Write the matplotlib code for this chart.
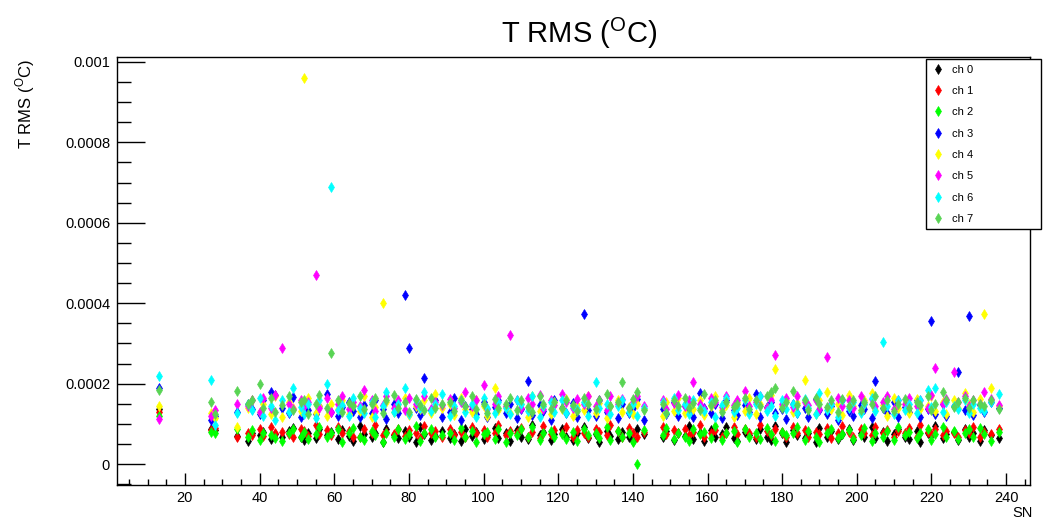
import matplotlib.pyplot as plt
from matplotlib.ticker import MultipleLocator
import numpy as np

plt.rcParams['font.family'] = ['Liberation Sans', 'DejaVu Sans']
plt.rcParams['mathtext.fontset'] = 'custom'
plt.rcParams['mathtext.rm'] = 'Liberation Sans'

# serial numbers (x axis)
sn = [13, 27, 28, 34, 37, 38, 40, 41, 43, 44,
      46, 48, 49, 51, 52, 53, 55, 56, 58, 59,
      61, 62, 64, 65, 67, 68, 70, 71, 73, 74,
      76, 77, 79, 80, 82, 83, 84, 86, 87, 89,
      91, 92, 94, 95, 97, 98, 100, 101, 103, 104,
      106, 107, 109, 110, 112, 113, 115, 116, 118, 119,
      121, 122, 124, 125, 127, 128, 130, 131, 133, 134,
      136, 137, 139, 140, 141, 143, 148, 149, 151, 152,
      154, 155, 156, 158, 159, 161, 162, 164, 165, 167,
      168, 170, 171, 173, 174, 176, 177, 178, 180, 181,
      183, 184, 186, 187, 189, 190, 192, 193, 195, 196,
      198, 199, 201, 202, 204, 205, 207, 208, 210, 211,
      213, 214, 216, 217, 219, 220, 221, 223, 224, 226,
      227, 229, 230, 231, 233, 234, 236, 238]

# T RMS per channel, in units of 1e-6 degC
ch0 = [138, 88, 85, 70, 58, 78, 72, 80, 62, 74,
       66, 82, 90, 68, 60, 76, 65, 88, 73, 79,
       62, 84, 70, 58, 95, 74, 66, 78, 56, 86,
       72, 64, 81, 68, 55, 92, 75, 60, 70, 83,
       64, 74, 58, 88, 70, 79, 62, 73, 90, 65,
       76, 58, 84, 68, 62, 96, 72, 80, 60, 75,
       86, 68, 60, 78, 92, 64, 74, 56, 82, 70,
       62, 79, 68, 58, 88, 74, 66, 82, 60, 76,
       70, 95, 62, 78, 57, 84, 68, 74, 92, 64,
       58, 80, 73, 62, 88, 68, 60, 95, 76, 56,
       84, 72, 64, 78, 54, 90, 68, 82, 62, 74,
       88, 60, 76, 68, 92, 64, 80, 58, 74, 86,
       68, 62, 82, 56, 78, 72, 94, 64, 75, 80,
       60, 88, 68, 76, 58, 84, 72, 64]
ch1 = [130, 84, 90, 66, 78, 72, 86, 70, 92, 76,
       80, 74, 66, 88, 82, 70, 98, 75, 84, 72,
       92, 76, 82, 68, 66, 86, 78, 96, 72, 80,
       74, 88, 70, 84, 78, 64, 94, 76, 82, 68,
       86, 72, 80, 66, 92, 76, 84, 68, 78, 98,
       72, 82, 76, 90, 68, 80, 64, 94, 74, 84,
       78, 92, 68, 84, 76, 66, 86, 80, 72, 96,
       82, 68, 90, 76, 66, 80, 92, 74, 84, 78,
       86, 72, 80, 96, 68, 78, 84, 66, 76, 92,
       74, 88, 78, 68, 98, 82, 72, 86, 80, 66,
       92, 76, 84, 68, 80, 74, 90, 64, 78, 94,
       80, 68, 86, 76, 72, 92, 78, 84, 66, 82,
       76, 90, 68, 96, 80, 74, 86, 72, 82, 78,
       68, 84, 76, 92, 66, 80, 74, 86]
ch2 = [120, 80, 76, 87, 68, 84, 60, 78, 72, 64,
       58, 76, 88, 68, 80, 62, 74, 92, 66, 78,
       86, 56, 76, 90, 68, 60, 82, 72, 54, 78,
       68, 88, 62, 74, 94, 58, 78, 86, 66, 72,
       76, 60, 90, 68, 82, 54, 74, 80, 62, 88,
       56, 78, 72, 86, 66, 92, 60, 76, 82, 68,
       74, 62, 80, 58, 88, 72, 78, 64, 92, 60,
       82, 68, 76, 56, 0, 84, 72, 90, 62, 78,
       68, 58, 88, 74, 80, 64, 94, 60, 76, 82,
       54, 86, 68, 78, 62, 90, 74, 58, 80, 72,
       76, 92, 60, 82, 68, 56, 78, 88, 64, 74,
       84, 62, 72, 90, 58, 78, 68, 82, 60, 92,
       72, 80, 64, 76, 88, 60, 74, 92, 68, 82,
       62, 78, 86, 68, 90, 74, 58, 80]
ch3 = [190, 110, 120, 130, 150, 138, 125, 160, 180, 172,
       140, 128, 167, 118, 150, 135, 124, 145, 175, 130,
       120, 142, 155, 132, 118, 148, 126, 160, 138, 112,
       150, 128, 420, 288, 140, 122, 215, 135, 158, 118,
       130, 165, 110, 145, 138, 125, 155, 118, 142, 160,
       128, 150, 115, 136, 207, 122, 148, 132, 110, 158,
       140, 126, 152, 118, 372, 135, 120, 160, 130, 145,
       115, 150, 128, 140, 162, 110, 138, 125, 155, 120,
       145, 132, 118, 177, 140, 128, 150, 115, 160, 135,
       122, 148, 130, 175, 118, 142, 155, 126, 138, 112,
       150, 128, 140, 118, 162, 135, 124, 145, 110, 158,
       132, 120, 148, 138, 115, 207, 140, 126, 155, 118,
       142, 130, 160, 118, 136, 355, 125, 150, 120, 145,
       228, 135, 368, 122, 148, 130, 155, 140]
ch4 = [145, 127, 115, 93, 140, 160, 130, 150, 125, 170,
       118, 155, 140, 132, 960, 165, 128, 145, 120, 150,
       138, 160, 125, 148, 132, 170, 118, 142, 400, 155,
       130, 150, 165, 122, 145, 136, 160, 128, 175, 140,
       150, 122, 165, 138, 130, 158, 145, 120, 190, 135,
       142, 128, 160, 150, 118, 170, 132, 145, 125, 155,
       138, 162, 120, 148, 135, 170, 128, 152, 115, 145,
       160, 130, 142, 125, 150, 138, 120, 155, 132, 165,
       128, 150, 138, 160, 122, 145, 170, 135, 148, 118,
       155, 132, 165, 125, 150, 140, 172, 237, 145, 160,
       130, 152, 210, 140, 125, 160, 180, 138, 150, 122,
       172, 145, 130, 158, 177, 135, 148, 120, 165, 140,
       150, 128, 162, 138, 145, 170, 132, 155, 125, 160,
       140, 177, 150, 130, 162, 373, 190, 145]
ch5 = [112, 120, 135, 150, 145, 158, 130, 165, 140, 172,
       288, 150, 138, 160, 145, 155, 470, 140, 165, 130,
       150, 168, 138, 155, 145, 185, 160, 132, 148, 170,
       140, 158, 135, 165, 150, 142, 170, 138, 155, 148,
       162, 140, 155, 178, 145, 160, 197, 138, 150, 168,
       145, 320, 158, 140, 165, 150, 172, 138, 160, 148,
       173, 155, 140, 162, 150, 168, 145, 158, 135, 170,
       150, 162, 140, 155, 168, 145, 160, 138, 152, 172,
       145, 160, 205, 150, 138, 165, 155, 142, 170, 148,
       160, 182, 145, 155, 168, 140, 158, 270, 150, 165,
       142, 170, 155, 148, 160, 138, 267, 152, 165, 145,
       158, 140, 170, 150, 162, 145, 155, 168, 138, 160,
       150, 165, 145, 158, 140, 172, 238, 150, 162, 228,
       155, 168, 145, 160, 150, 178, 162, 148]
ch6 = [220, 210, 97, 128, 150, 135, 165, 120, 145, 110,
       158, 130, 190, 142, 125, 150, 115, 160, 200, 690,
       135, 148, 120, 165, 140, 128, 155, 118, 145, 180,
       130, 150, 190, 125, 160, 140, 178, 132, 150, 175,
       120, 145, 160, 130, 150, 118, 165, 140, 128, 155,
       140, 125, 160, 150, 132, 168, 118, 145, 155, 130,
       160, 128, 145, 138, 155, 120, 204, 140, 150, 125,
       145, 160, 130, 150, 120, 140, 155, 128, 165, 135,
       150, 125, 160, 140, 132, 155, 118, 148, 165, 130,
       140, 158, 125, 150, 168, 132, 145, 120, 160, 138,
       150, 128, 162, 140, 125, 177, 135, 150, 118, 160,
       140, 155, 128, 150, 165, 132, 303, 145, 125, 158,
       135, 150, 128, 160, 185, 142, 190, 130, 155, 145,
       138, 160, 128, 150, 140, 132, 155, 175]
ch7 = [185, 155, 125, 182, 150, 160, 200, 140, 165, 130,
       148, 170, 135, 155, 160, 125, 150, 172, 140, 275,
       160, 130, 152, 145, 170, 138, 150, 165, 128, 158,
       172, 140, 155, 130, 162, 148, 135, 165, 140, 150,
       155, 132, 160, 145, 170, 138, 150, 128, 162, 140,
       150, 165, 135, 158, 142, 130, 168, 150, 138, 155,
       140, 160, 148, 132, 165, 150, 138, 158, 175, 145,
       155, 204, 140, 162, 178, 135, 150, 128, 158, 145,
       165, 140, 152, 135, 173, 148, 160, 130, 155, 142,
       150, 165, 138, 158, 145, 170, 180, 190, 140, 155,
       182, 148, 160, 135, 165, 150, 142, 158, 130, 162,
       145, 160, 135, 155, 150, 168, 140, 158, 132, 150,
       162, 140, 155, 148, 170, 135, 150, 178, 160, 142,
       155, 165, 140, 158, 150, 145, 160, 138]

channels = [ch0, ch1, ch2, ch3, ch4, ch5, ch6, ch7]
labels = ['ch 0', 'ch 1', 'ch 2', 'ch 3', 'ch 4', 'ch 5', 'ch 6', 'ch 7']
colors = ['#000000', '#ff0000', '#00ff00', '#0000ff',
          '#ffff00', '#ff00ff', '#00ffff', '#59d454']

fig = plt.figure(figsize=(10.49, 5.24), dpi=100)
ax = fig.add_axes([117/1049, 1 - 485/524, 913/1049, 428/524])

for vals, lab, col in zip(channels, labels, colors):
    ax.plot(sn, np.array(vals) * 1e-6, linestyle='none', marker='d',
            markersize=4.6, color=col, markeredgewidth=0.45, label=lab)

ax.set_xlim(1.8, 246.4)
ax.set_ylim(-5.22e-5, 1.0124e-3)

ax.xaxis.set_minor_locator(MultipleLocator(5))
ax.yaxis.set_minor_locator(MultipleLocator(0.00005))
ax.set_xticks([20, 40, 60, 80, 100, 120, 140, 160, 180, 200, 220, 240])
ax.set_yticks([0, 0.0002, 0.0004, 0.0006, 0.0008, 0.001])
ax.set_yticklabels(['0', '0.0002', '0.0004', '0.0006', '0.0008', '0.001'])

ax.tick_params(axis='y', which='major', direction='in', length=20, width=1, labelsize=10.5, pad=5)
ax.tick_params(axis='y', which='minor', direction='in', length=10, width=1)
ax.tick_params(axis='x', which='major', direction='in', length=8.5, width=1, labelsize=10.5, pad=4)
ax.tick_params(axis='x', which='minor', direction='in', length=4.3, width=1)
for s in ax.spines.values():
    s.set_linewidth(1.0)

fig.text(579/1049, 0.936, r'T RMS ($^{\mathrm{O}}$C)', ha='center', va='center', fontsize=21)
fig.text(0.024, 0.887, r'T RMS ($^{\mathrm{O}}$C)', rotation=90, ha='center', va='top', fontsize=12)
fig.text(1033/1049, 1 - 513/524, 'SN', ha='right', va='center', fontsize=10.5)

leg = ax.legend(loc='upper left', bbox_to_anchor=(926/1049, 1 - 217/524, 115/1049, 158/524),
                bbox_transform=fig.transFigure, mode='expand', fancybox=False,
                edgecolor='black', framealpha=1, fontsize=8, labelspacing=1.02,
                handlelength=1.2, handletextpad=0.6, borderpad=0.5, borderaxespad=0)
leg.get_frame().set_linewidth(1.0)

plt.savefig('out.png', dpi=100)
